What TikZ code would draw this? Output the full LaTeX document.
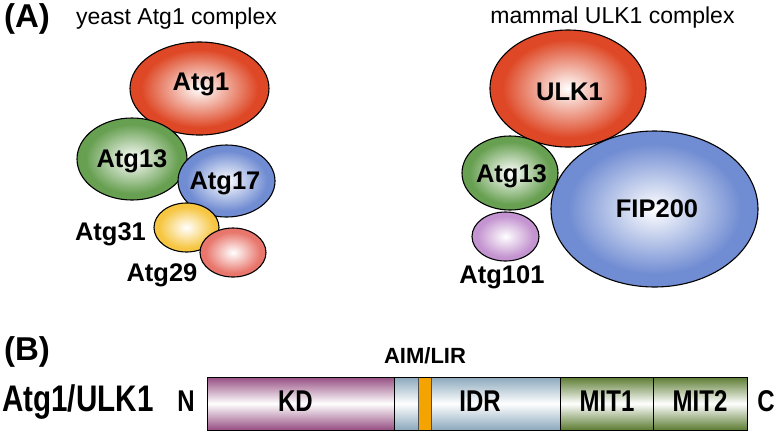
\documentclass[tikz,border=0pt]{standalone}
\usepackage{fontspec}
\setmainfont{Liberation Sans}
\newfontfamily\condfont[FakeStretch=0.8]{Liberation Sans}
\usetikzlibrary{shapes.geometric}
\definecolor{redc}{RGB}{222,72,38}
\definecolor{greenc}{RGB}{104,160,82}
\definecolor{bluec}{RGB}{112,140,210}
\definecolor{yellowc}{RGB}{246,198,66}
\definecolor{pinkc}{RGB}{232,118,108}
\definecolor{purplec}{RGB}{196,148,208}
\definecolor{kdc}{RGB}{150,78,130}
\definecolor{idrc}{RGB}{138,168,188}
\definecolor{mitc}{RGB}{92,124,50}
\definecolor{orangec}{RGB}{244,164,0}
\makeatletter
\pgfdeclareradialshading[tikz@radial@inner,tikz@radial@outer]{softball}{\pgfpointorigin}{color(0bp)=(tikz@radial@inner); color(21bp)=(tikz@radial@outer); color(50bp)=(tikz@radial@outer)}
\makeatother
\begin{document}
\begin{tikzpicture}[x=1pt,y=-1pt,
  blob/.style={ellipse, draw=black, line width=1.1pt, inner sep=0pt, inner color=white, outer color=#1, shading=softball},
  lab/.style={anchor=base, inner sep=0pt, font=\fontsize{25.5}{25.5}\selectfont\bfseries},
  ttl/.style={anchor=base, inner sep=0pt, font=\fontsize{23}{23}\selectfont},
  panel/.style={anchor=base, inner sep=0pt, font=\fontsize{33}{33}\selectfont\bfseries},
  blab/.style={anchor=base, inner sep=0pt, font=\fontsize{30}{30}\selectfont\condfont\bfseries},
  seg/.style={top color=#1, bottom color=#1, middle color=white}
]
\useasboundingbox (0,0) rectangle (774,432);

% panel labels and titles
\node[panel] (pA) at (27,27) {(A)};
\node[panel] (pB) at (27,360) {(B)};
\node[ttl] (tyeast) at (176.5,24) {yeast Atg1 complex};
\node[ttl] (tmammal) at (612.5,23.5) {mammal ULK1 complex};

% yeast complex
\node[blob=redc, minimum width=139pt, minimum height=93pt] (atg1) at (199.5,88.5) {};
\node[blob=greenc, minimum width=110pt, minimum height=82pt] (atg13) at (132,159) {};
\node[blob=bluec, minimum width=97pt, minimum height=72pt] (atg17) at (226.5,181) {};
\node[blob=yellowc, minimum width=65pt, minimum height=49pt] (atg31) at (186.5,227.5) {};
\node[blob=pinkc, minimum width=66pt, minimum height=49pt] (atg29) at (233,252.5) {};

\node[lab] (latg1) at (201,90.7) {Atg1};
\node[lab] (latg13) at (132,167) {Atg13};
\node[lab] (latg17) at (225,189) {Atg17};
\node[lab] (latg31) at (110.5,240) {Atg31};
\node[lab] (latg29) at (162,281) {Atg29};

% mammal complex
\node[blob=redc, minimum width=156pt, minimum height=117pt] (ulk1) at (568,88.5) {};
\node[blob=greenc, minimum width=96pt, minimum height=74pt] (matg13) at (510,173) {};
\node[blob=bluec, minimum width=207pt, minimum height=156pt] (fip) at (654.5,209) {};
\node[blob=purplec, minimum width=67pt, minimum height=49pt] (atg101) at (505.5,236.5) {};

\node[lab] (lulk1) at (569.5,100) {ULK1};
\node[lab] (lmatg13) at (511.5,182) {Atg13};
\node[lab] (lfip) at (657,217) {FIP200};
\node[lab] (latg101) at (502,283) {Atg101};

% panel B: domain bar
\path[seg=kdc] (207,377) rectangle (394,430);
\path[seg=idrc] (394,377) rectangle (560,430);
\path[seg=mitc] (560,377) rectangle (747,430);
\draw[draw=black!70, line width=0.5pt, fill=orangec] (418,377) rectangle (431,430);
\draw[line width=1pt] (394,377) -- (394,430) (560,377) -- (560,430) (653,377) -- (653,430);
\draw[line width=1pt] (207,377) rectangle (747,430);

\node[anchor=base west, inner sep=0pt, font=\fontsize{37}{37}\selectfont\condfont\bfseries] (prot) at (2,411.7) {Atg1/ULK1};
\node[blab] (nterm) at (186,411.7) {N};
\node[blab] (cterm) at (766,411.7) {C};
\node[blab] (kd) at (295.5,411.7) {KD};
\node[blab] (idr) at (480,411.7) {IDR};
\node[blab] (mit1) at (607,411.7) {MIT1};
\node[blab] (mit2) at (700,411.7) {MIT2};
\node[anchor=base, inner sep=0pt, font=\fontsize{22}{22}\selectfont\bfseries] (aim) at (425,363) {AIM/LIR};
\end{tikzpicture}
\end{document}
